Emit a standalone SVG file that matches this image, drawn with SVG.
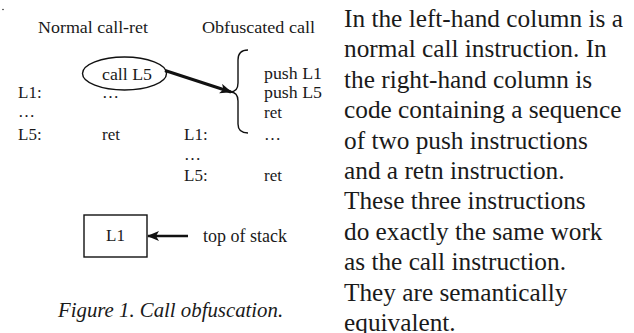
<svg xmlns="http://www.w3.org/2000/svg" width="634" height="333" viewBox="0 0 634 333">
<defs>
<style>
.t{font-family:"Liberation Serif","Times New Roman",serif;font-size:17px;fill:#1a1a1a}
.p{font-family:"Liberation Serif","Times New Roman",serif;font-size:25.3px;fill:#1a1a1a}
.cap{font-family:"Liberation Serif","Times New Roman",serif;font-size:20.8px;font-style:italic;fill:#1a1a1a}
.ln{fill:none;stroke:#111;stroke-width:1.4}
</style>
<marker id="ah" viewBox="0 0 12 10" refX="11" refY="5" markerWidth="12" markerHeight="10" markerUnits="userSpaceOnUse" orient="auto">
<path d="M0,0 L12,5 L0,10 L3,5 Z" fill="#111"/>
</marker>
</defs>
<rect width="634" height="333" fill="#fff"/>
<circle cx="3" cy="9.5" r="0.8" fill="#333"/>
<g id="headers">
<text class="t" x="38" y="33" textLength="110" lengthAdjust="spacingAndGlyphs">Normal call-ret</text>
<text class="t" x="202" y="33" textLength="113" lengthAdjust="spacingAndGlyphs">Obfuscated call</text>
</g>
<g id="call">
<ellipse class="ln" cx="124.5" cy="73.5" rx="42" ry="16.5"/>
<text class="t" x="102" y="80" textLength="50" lengthAdjust="spacingAndGlyphs">call L5</text>
</g>
<g id="normal-code">
<text class="t" x="18" y="98">L1:</text>
<text class="t" x="102" y="98">…</text>
<text class="t" x="18" y="117">…</text>
<text class="t" x="18" y="139.5">L5:</text>
<text class="t" x="102" y="139.5">ret</text>
</g>
<g id="obf-code">
<text class="t" x="264" y="79" textLength="58" lengthAdjust="spacingAndGlyphs">push L1</text>
<text class="t" x="264" y="98" textLength="58" lengthAdjust="spacingAndGlyphs">push L5</text>
<text class="t" x="264" y="118">ret</text>
<text class="t" x="264" y="139.5">…</text>
<text class="t" x="184" y="139.5">L1:</text>
<text class="t" x="184" y="160">…</text>
<text class="t" x="184" y="181">L5:</text>
<text class="t" x="264" y="181">ret</text>
</g>
<g id="brace">
<path class="ln" d="M248,50 Q238,50 238,60 L238,83 Q238,92 230,92 Q238,92 238,101 L238,124 Q238,133 248,133"/>
</g>
<g id="stack">
<rect class="ln" x="84" y="215" width="63" height="42"/>
<text class="t" x="115.5" y="241" text-anchor="middle">L1</text>
<text class="t" x="203" y="241.5" style="font-size:18px">top of stack</text>
</g>
<g id="connectors">
<line x1="165" y1="70.5" x2="231" y2="92" stroke="#111" stroke-width="3" marker-end="url(#ah)"/>
<line x1="188" y1="236" x2="148" y2="236" stroke="#111" stroke-width="2.5" marker-end="url(#ah)"/>
</g>
<g id="caption">
<text class="cap" x="58" y="317">Figure 1. Call obfuscation.</text>
</g>
<g id="paragraph">
<text class="p" x="344" y="27">In the left-hand column is a</text>
<text class="p" x="344" y="57.4">normal call instruction. In</text>
<text class="p" x="344" y="87.8">the right-hand column is</text>
<text class="p" x="344" y="118.2">code containing a sequence</text>
<text class="p" x="344" y="148.6">of two push instructions</text>
<text class="p" x="344" y="179">and a retn instruction.</text>
<text class="p" x="344" y="209.4">These three instructions</text>
<text class="p" x="344" y="239.8">do exactly the same work</text>
<text class="p" x="344" y="270.2">as the call instruction.</text>
<text class="p" x="344" y="300.6">They are semantically</text>
<text class="p" x="344" y="331">equivalent.</text>
</g>
</svg>
